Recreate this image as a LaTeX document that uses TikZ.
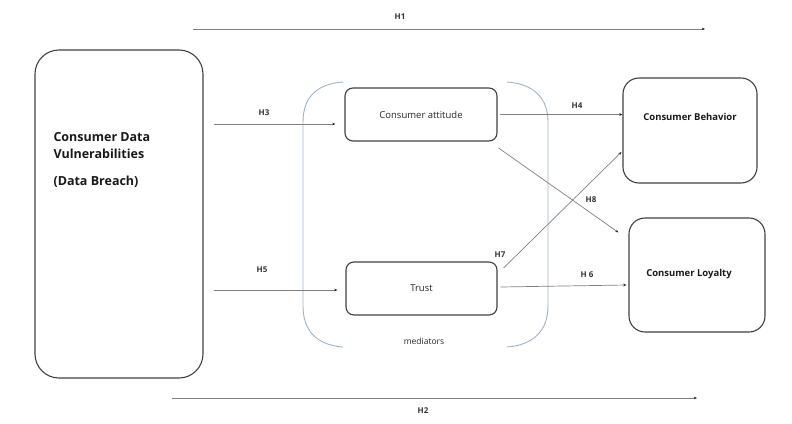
\documentclass[tikz,border=0pt]{standalone}
\usepackage{fontspec}
\setmainfont{Open Sans}
\usetikzlibrary{arrows.meta,calc}
\definecolor{bracketblue}{HTML}{9FB2C8}
\begin{document}
\begin{tikzpicture}[x=1pt,y=-1pt,
  box/.style={draw=black!75,line width=1.1pt,rounded corners=#1},
  box/.default=8pt,
  conn/.style={draw=black!50,line width=0.7pt,-{Stealth[length=3.2pt,width=2.6pt,black!85]}},
  hlab/.style={font=\fontsize{8}{9}\selectfont\bfseries,text=black!80,inner sep=1pt},
  bracketline/.style={draw=bracketblue,line width=0.9pt},
  midtext/.style={font=\fontsize{9.5}{11}\selectfont,text=black!85},
  endtext/.style={font=\fontsize{9.5}{11}\selectfont\bfseries,text=black!90}]
\useasboundingbox (0,0) rectangle (792,423);

% source construct
\node[box=24pt,minimum width=168pt,minimum height=328pt] (cdv) at (119,214) {};
\node[anchor=west,align=left,font=\fontsize{12.5}{17}\selectfont\bfseries,text=black!90] (cdvtext) at (50,160)
  {Consumer Data\\Vulnerabilities\\[10pt](Data Breach)};

% mediators
\node[box,minimum width=152pt,minimum height=53pt,midtext] (att) at (421,114.5) {Consumer attitude};
\node[box,minimum width=151pt,minimum height=53pt,midtext] (trust) at (421.5,288.5) {Trust};

% outcomes
\node[box=16pt,minimum width=134pt,minimum height=105pt] (beh) at (690,130.5) {};
\node[endtext] (behtext) at (690,117) {Consumer Behavior};
\node[box=16pt,minimum width=136pt,minimum height=114pt] (loy) at (697,275) {};
\node[endtext] (loytext) at (689,274) {Consumer Loyalty};

% bracket grouping the mediators
\draw[bracketline] (343,82) .. controls (316,84) and (303,98) .. (303,122) -- (303,306) .. controls (303,330) and (316,345) .. (343,347);
\draw[bracketline] (507,82) .. controls (534,84) and (548,98) .. (548,122) -- (548,306) .. controls (548,330) and (534,345) .. (507,347);
\node[midtext,font=\fontsize{8.5}{10}\selectfont] (medlab) at (424,341) {mediators};

% direct paths
\coordinate (h1s) at (193,29);
\coordinate (h1e) at (705,29);
\draw[conn] (h1s) -- (h1e);
\node[hlab] (h1) at (400,17) {H1};
\coordinate (h2s) at (172,398);
\coordinate (h2e) at (697,398);
\draw[conn] (h2s) -- (h2e);
\node[hlab] (h2) at (423,411) {H2};

% into the mediators
\draw[conn] ([shift={(10pt,-9.5pt)}]cdv.east |- att.west) -- ([shift={(-9pt,-9.5pt)}]att.west);
\node[hlab] (h3) at (264,113) {H3};
\draw[conn] ([shift={(10pt,-1.5pt)}]cdv.east |- trust.west) -- ([shift={(-8pt,-1.5pt)}]trust.west);
\node[hlab] (h5) at (262,270) {H5};

% out of the mediators
\draw[conn] ([xshift=2pt]att.east) -- (beh.west |- att.east);
\node[hlab] (h4) at (577,106) {H4};
\draw[conn] ([shift={(1pt,-33.5pt)}]att.east) -- ([shift={(-10pt,-15pt)}]loy.north west);
\node[hlab] (h8) at (591,200) {H8};
\draw[conn] ([shift={(6pt,20.5pt)}]trust.east) -- ([shift={(-1pt,-21.5pt)}]beh.west);
\node[hlab] (h7) at (500,255) {H7};
\draw[conn] ([shift={(3pt,1.5pt)}]trust.east) -- ([xshift=-2pt]loy.west |- 0,285);
\node[hlab] (h6) at (587,275) {H 6};
\end{tikzpicture}
\end{document}
